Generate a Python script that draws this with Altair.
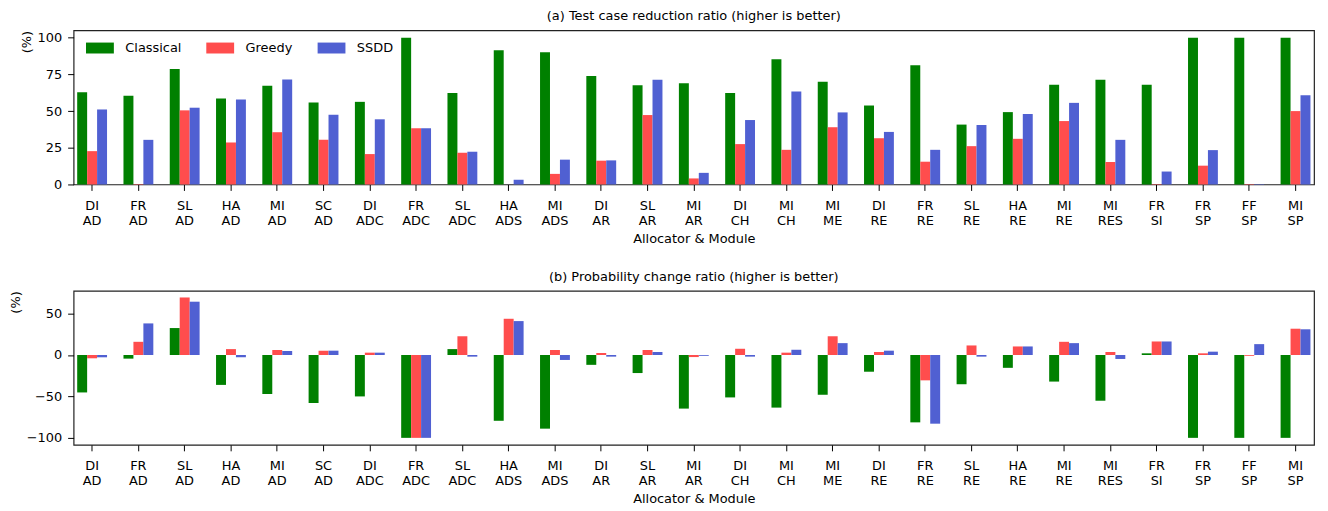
import altair as alt
import pandas as pd

categories = ["DI AD", "FR AD", "SL AD", "HA AD", "MI AD", "SC AD", "DI ADC", "FR ADC",
              "SL ADC", "HA ADS", "MI ADS", "DI AR", "SL AR", "MI AR", "DI CH", "MI CH",
              "MI ME", "DI RE", "FR RE", "SL RE", "HA RE", "MI RE", "MI RES", "FR SI",
              "FR SP", "FF SP", "MI SP"]
methods = ["Classical", "Greedy", "SSDD"]
colors = ["#008000", "#ff4d4d", "#5060d2"]

# (a) Test case reduction ratio
classical_a = [62.8, 60.4, 78.6, 58.6, 67.3, 55.9, 56.3, 100.0, 62.4, 91.4, 90.1, 73.9, 67.6, 68.9,
               62.4, 85.4, 70.0, 53.8, 81.3, 40.8, 49.3, 68.0, 71.4, 68.0, 100.0, 100.0, 100.0]
greedy_a = [22.7, 0.3, 50.5, 28.6, 35.6, 30.4, 20.7, 38.3, 21.6, 0.0, 7.2, 16.2, 47.3, 4.1,
            27.5, 23.6, 39.0, 31.5, 15.5, 26.1, 31.1, 43.2, 15.3, 0.3, 12.8, 0.3, 50.0]
ssdd_a = [51.1, 30.4, 52.3, 57.9, 71.6, 47.5, 44.4, 38.3, 22.3, 3.2, 16.9, 16.4, 71.4, 7.9,
          43.9, 63.3, 49.1, 35.8, 23.6, 40.5, 48.0, 55.6, 30.4, 8.8, 23.4, 0.3, 60.8]

# (b) Probability change ratio
classical_b = [-45.2, -4.4, 32.5, -36.1, -47.2, -57.9, -50.0, -100.0, 7.1, -79.4, -88.9, -11.9, -21.8,
               -64.7, -51.2, -63.5, -48.0, -20.2, -81.3, -35.3, -15.5, -32.1, -55.2, 2.0, -100.0,
               -100.0, -100.0]
greedy_b = [-4.0, 15.9, 69.4, 7.1, 6.0, 5.2, 2.8, -100.0, 22.6, 43.7, 6.0, 2.4, 6.0, -2.5,
            7.5, 2.8, 22.6, 3.6, -30.6, 11.5, 10.3, 15.9, 3.6, 16.3, 2.0, -1.0, 31.7]
ssdd_b = [-2.8, 38.1, 64.3, -2.8, 4.8, 5.2, 2.8, -100.0, -2.0, 40.9, -6.0, -2.0, 3.6, -1.0,
          -2.0, 6.3, 14.3, 5.2, -82.9, -2.0, 10.3, 14.3, -4.8, 16.3, 4.0, 13.1, 31.0]


def long_table(c, g, s):
    rows = []
    for i, cat in enumerate(categories):
        for m, vals in zip(methods, (c, g, s)):
            rows.append({"cat": cat, "method": m, "value": vals[i]})
    return pd.DataFrame(rows)


FONT = "DejaVu Sans"


def panel(df, title, domain, ticks, show_legend):
    legend = None
    if show_legend:
        legend = alt.Legend(
            title=None, orient="none", legendX=11, legendY=11, direction="horizontal",
            symbolType="M-1,-1.1L4.6,-1.1L4.6,1.1L-1,1.1Z", symbolSize=100,
            symbolStrokeWidth=0, labelOffset=28, columnPadding=23, labelFontSize=13,
            labelFont=FONT, padding=0, labelColor="#000000",
        )
    return alt.Chart(df).mark_bar().encode(
        x=alt.X("cat:N", sort=categories, title="Allocator & Module",
                scale=alt.Scale(paddingInner=0.355, paddingOuter=0.0775),
                axis=alt.Axis(labelAngle=0, labelExpr="split(datum.label, ' ')",
                              labelLineHeight=15, labelBaseline="top", tickSize=6,
                              labelPadding=9, domain=False, titlePadding=5)),
        xOffset=alt.XOffset("method:N", sort=methods,
                            scale=alt.Scale(paddingInner=0, paddingOuter=0)),
        y=alt.Y("value:Q", title="(%)",
                scale=alt.Scale(domain=domain, nice=False, zero=False),
                axis=alt.Axis(values=ticks, tickSize=6, labelPadding=6, domain=False,
                              grid=False, titleAnchor="end", titlePadding=4)),
        color=alt.Color("method:N", sort=methods,
                        scale=alt.Scale(domain=methods, range=colors), legend=legend),
    ).properties(
        width=1248, height=155,
        title=alt.TitleParams(title, fontSize=13, fontWeight="normal", font=FONT,
                              anchor="middle", offset=7, color="#000000"),
    )


top = panel(long_table(classical_a, greedy_a, ssdd_a),
            "(a) Test case reduction ratio (higher is better)", [0, 105],
            [0, 25, 50, 75, 100], True)
bottom = panel(long_table(classical_b, greedy_b, ssdd_b),
               "(b) Probability change ratio (higher is better)", [-108.45, 77.45],
               [-100, -50, 0, 50], False)

chart = alt.vconcat(top, bottom, spacing=24).resolve_scale(
    color="independent"
).resolve_legend(color="independent").properties(
    padding={"left": 0, "top": 0, "right": 5, "bottom": 0}
).configure(
    font=FONT,
).configure_view(
    stroke="#222222", strokeWidth=1.2,
).configure_axis(
    labelFont=FONT, titleFont=FONT, labelFontSize=13, titleFontSize=13,
    titleFontWeight="normal", labelColor="#000000", titleColor="#000000",
    tickColor="#000000", tickWidth=1,
)

chart.save("out.html", embed_options={"renderer": "svg", "actions": False})
